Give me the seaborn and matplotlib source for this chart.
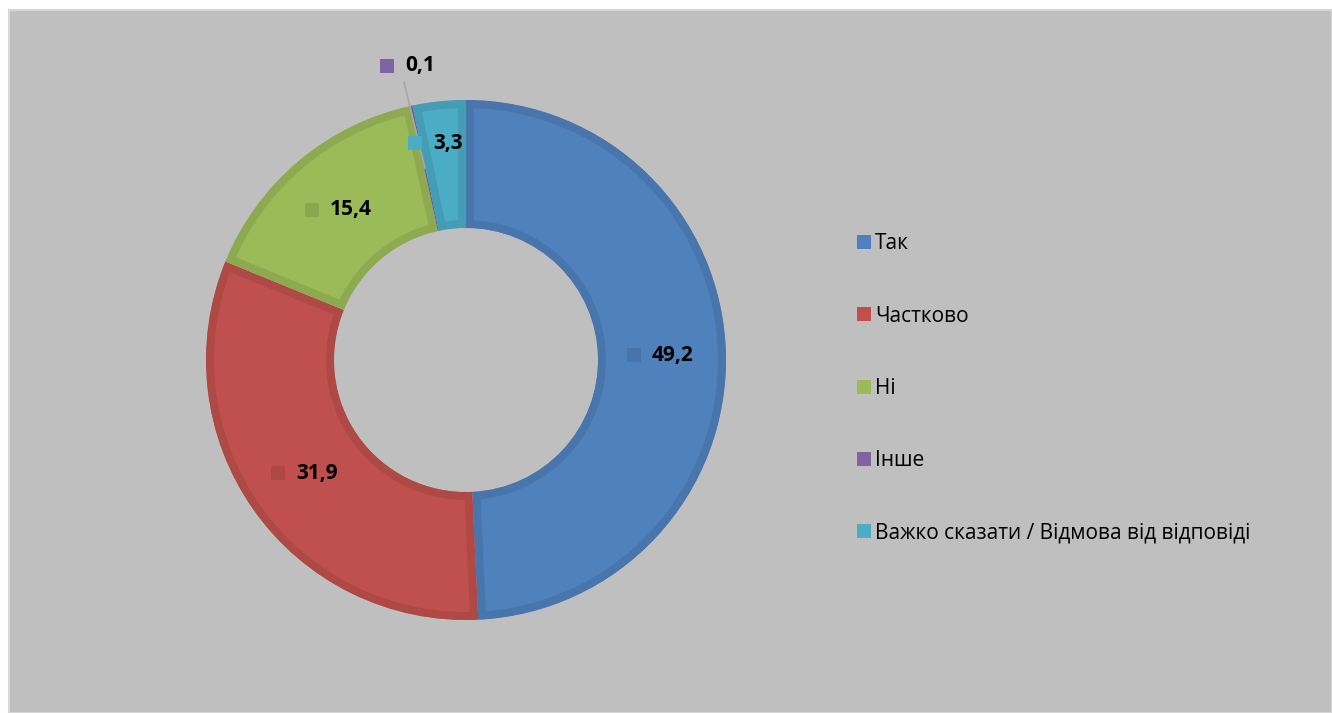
import numpy as np
import matplotlib
matplotlib.use("Agg")
import matplotlib.pyplot as plt
from matplotlib.patches import Rectangle
from matplotlib.lines import Line2D
import seaborn as sns

categories = ["Так", "Частково", "Ні", "Інше", "Важко сказати / Відмова від відповіді"]
values = [49.2, 31.9, 15.4, 0.1, 3.3]
value_labels = ["49,2", "31,9", "15,4", "0,1", "3,3"]
colors = ["#4f81bd", "#c0504d", "#9bbb59", "#8064a2", "#4bacc6"]

sns.set_style("white")
plt.rcParams['font.family'] = ['Open Sans', 'DejaVu Sans']

W, H = 1332, 713
fig = plt.figure(figsize=(W / 100, H / 100), dpi=100)
fig.patch.set_facecolor("white")
ax = fig.add_axes([0, 0, 1, 1])

cx, cy = 466, H - 360
R_out, R_in = 260, 132


def darker(c, f=0.9):
    r, g, b = matplotlib.colors.to_rgb(c)
    return (r * f, g * f, b * f)


wedges, _ = ax.pie(values, colors=colors, startangle=90, counterclock=False,
                   center=(cx, cy), radius=R_out,
                   wedgeprops=dict(width=R_out - R_in, linewidth=0))
ax.set_xlim(0, W)
ax.set_ylim(0, H)
ax.set_aspect("equal")
ax.axis("off")

# panel background
ax.add_patch(Rectangle((9, 0), W - 9, H - 10, facecolor="#bfbfbf",
                       edgecolor="#d6d6d6", linewidth=1.5, zorder=0))

for w, c in zip(wedges, colors):
    w.set_edgecolor(darker(c, 0.91))
    w.set_linewidth(11.5)
    w.set_clip_on(True)
    w.set_clip_path(w)
    w.set_zorder(2)

# data labels
total = sum(values)
cum = 0
for i, (v, lab, c) in enumerate(zip(values, value_labels, colors)):
    mid = cum + v / 2
    cum += v
    ang = np.deg2rad(90 - 360 * mid / total)
    if lab == "0,1":
        px, py = 415, H - 66
        rm = (R_out + R_in) / 2
        ax.plot([404, cx + rm * np.cos(ang)], [H - 82, cy + rm * np.sin(ang)],
                color="#a6a6a6", lw=1.2, zorder=3)
        mcol = c
    else:
        rr = 196 if v > 10 else 218
        px = cx + rr * np.cos(ang)
        py = cy + rr * np.sin(ang)
        mcol = darker(c, 0.9) if v > 10 else c
    ax.plot([px - 28], [py], marker="s", markersize=10, color=mcol,
            markeredgewidth=0, zorder=4, linestyle="none")
    ax.text(px - 10, py, lab, ha="left", va="center", fontsize=15,
            fontweight="bold", color="black", zorder=5)

# legend
handles = [Line2D([0], [0], marker="s", color="none", markerfacecolor=c,
                  markeredgewidth=0, markersize=10.5) for c in colors]
leg = ax.legend(handles, categories, loc="upper left",
                bbox_to_anchor=(849 / W, 1 - 225 / H), frameon=False,
                fontsize=15, handlelength=0.6, handletextpad=0.25,
                labelspacing=2.46, borderaxespad=0)
for t in leg.get_texts():
    t.set_color("black")

fig.savefig("out.png", dpi=100, facecolor=fig.get_facecolor())
